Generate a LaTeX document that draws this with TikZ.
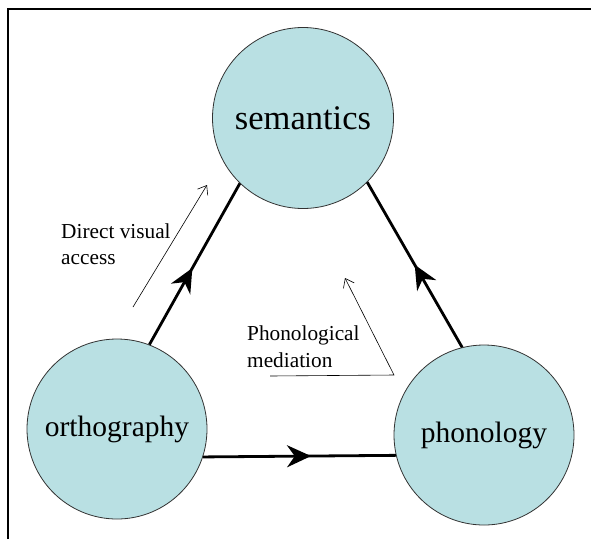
\documentclass[tikz,border=0pt]{standalone}
\usepackage{fontspec}
\setmainfont{Liberation Serif}
\usetikzlibrary{arrows.meta,decorations.markings}
\definecolor{circfill}{RGB}{185,224,227}
\definecolor{circline}{RGB}{50,50,50}
\tikzset{
  topic/.style={circle,fill=circfill,draw=circline,line width=0.8pt,inner sep=0pt},
  mainlink/.style={line width=2.8pt,postaction={decorate},
    decoration={markings,mark=at position #1 with {\arrow{Stealth[length=24pt,width=22pt]}}}},
  thinarrow/.style={line width=0.6pt,-{Straight Barb[length=8pt,width=12pt,line width=0.6pt]}},
  label/.style={font=\fontsize{21.3}{26.5}\selectfont,align=left,inner sep=0pt,anchor=base west},
  frameline/.style={line width=1.2pt}
}
\begin{document}
\begin{tikzpicture}[x=1pt,y=-1pt]
\useasboundingbox (0,0) rectangle (591,539);
% frame
\coordinate (fa) at (8,539);
\coordinate (fb) at (8,9);
\coordinate (fc) at (591,9);
\draw[frameline] (fa) -- (fb) -- (fc);
% circles
\node[topic,minimum size=181pt,font=\fontsize{34.5}{40}\selectfont] (s) at (303,118) {semantics};
\node[topic,minimum size=180pt,font=\fontsize{29.5}{35}\selectfont] (o) at (117,429) {orthography};
\node[topic,minimum size=180pt,font=\fontsize{29.5}{35}\selectfont] (p) at (484,435) {phonology};
% main links
\draw[mainlink=0.475] (o.69.7) -- (s.226.4);
\draw[mainlink=0.5] (p.104.2) -- (s.315.9);
\draw[mainlink=0.56] (o.342.8) -- (p.193.6);
% thin arrows
\coordinate (d1) at (133,307);
\coordinate (d2) at (207,185);
\draw[thinarrow] (d1) -- (d2);
\coordinate (m1) at (270,376);
\coordinate (m2) at (394,375);
\coordinate (m3) at (345,278);
\draw[thinarrow] (m1) -- (m2) -- (m3);
% labels
\node[label] (dva) at (61,264.5) {Direct visual\\access};
\node[label] (pm) at (247,367) {Phonological\\mediation};
\end{tikzpicture}
\end{document}
